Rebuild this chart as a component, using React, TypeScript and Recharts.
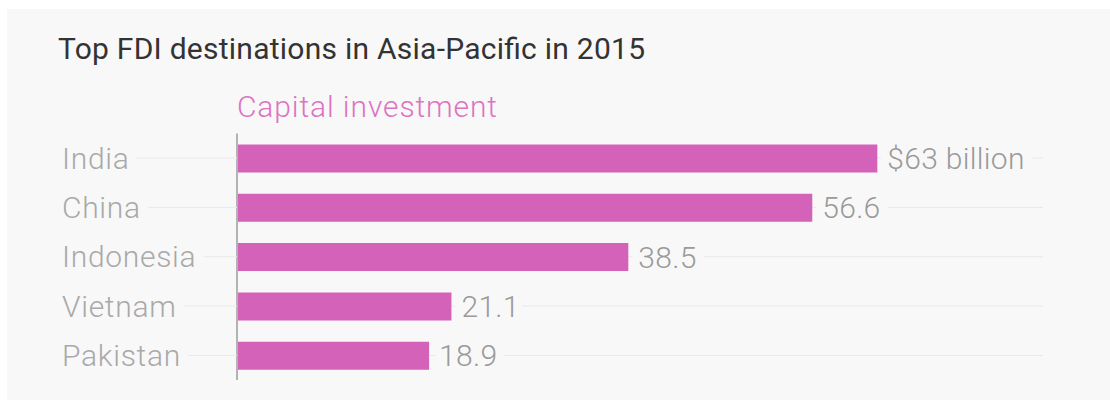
import { BarChart, Bar, XAxis, YAxis, CartesianGrid, LabelList } from "recharts";

// Top FDI destinations in Asia-Pacific, 2015 (capital investment)

const categories = ["India", "China", "Indonesia", "Vietnam", "Pakistan"];
const values = [63, 56.6, 38.5, 21.1, 18.9];
const valueLabels = ["$63 billion", "56.6", "38.5", "21.1", "18.9"];

const data = categories.map((country, i) => ({
  country,
  value: values[i],
  label: valueLabels[i],
}));

const BG = "#f8f8f8";
const BAR = "#d462b8";
const FONT = "Roboto, 'Noto Sans', sans-serif";

// y-axis label with its own gridline stub; a background halo cuts the line
function CategoryTick({ y, payload }: any) {
  return (
    <g>
      <line x1={55} x2={230} y1={y} y2={y} stroke="#e9e9e9" strokeWidth={1} />
      <text
        x={55}
        y={y}
        dominantBaseline="central"
        fontFamily={FONT}
        fontWeight={300}
        fontSize={30}
        letterSpacing={0.7}
        fill="#a9a9a9"
        stroke={BG}
        strokeWidth={20}
        strokeLinejoin="round"
        style={{ paintOrder: "stroke" }}
      >
        {payload.value}
      </text>
    </g>
  );
}

function ValueLabel({ x, y, width, height, value }: any) {
  return (
    <text
      x={x + width + 10}
      y={y + height / 2}
      dominantBaseline="central"
      fontFamily={FONT}
      fontWeight={300}
      fontSize={30}
      letterSpacing={0.3}
      fill="#9a9a9a"
      stroke={BG}
      strokeWidth={18}
      strokeLinejoin="round"
      style={{ paintOrder: "stroke" }}
    >
      {value}
    </text>
  );
}

// gridlines only through the band centres, not at the plot edges
const gridRows = ({ offset }: any) =>
  categories.map((_, i) => offset.top + (offset.height * (i + 0.5)) / categories.length);

export default function App() {
  return (
    <div style={panelStyle}>
      <BarChart
        layout="vertical"
        width={1103}
        height={391}
        data={data}
        margin={{ top: 124.5, right: 67, bottom: 20, left: 0 }}
      >
        <CartesianGrid
          horizontal
          vertical={false}
          stroke="#e9e9e9"
          horizontalCoordinatesGenerator={gridRows}
        />
        <XAxis type="number" hide domain={[0, 79.3]} />
        <YAxis
          type="category"
          dataKey="country"
          width={230}
          axisLine={{ stroke: "#b3b3b3", strokeWidth: 2 }}
          tickLine={false}
          tick={<CategoryTick />}
        />
        <Bar dataKey="value" fill={BAR} barSize={28} isAnimationActive={false}>
          <LabelList dataKey="label" content={<ValueLabel />} />
        </Bar>
      </BarChart>
      <svg width={1103} height={130} style={overlayStyle}>
        <text
          x={51}
          y={50}
          fontFamily={FONT}
          fontSize={30}
          fill="#333"
          textLength={587}
          lengthAdjust="spacing"
        >
          Top FDI destinations in Asia-Pacific in 2015
        </text>
        <text
          x={230}
          y={108}
          fontFamily={FONT}
          fontWeight={300}
          fontSize={30}
          fill="#dc74c2"
          textLength={260}
          lengthAdjust="spacing"
        >
          Capital investment
        </text>
      </svg>
    </div>
  );
}

const panelStyle: React.CSSProperties = {
  position: "absolute",
  left: 7,
  top: 9,
  width: 1103,
  height: 391,
  background: BG,
  overflow: "hidden",
};

const overlayStyle: React.CSSProperties = {
  position: "absolute",
  left: 0,
  top: 0,
  pointerEvents: "none",
};
